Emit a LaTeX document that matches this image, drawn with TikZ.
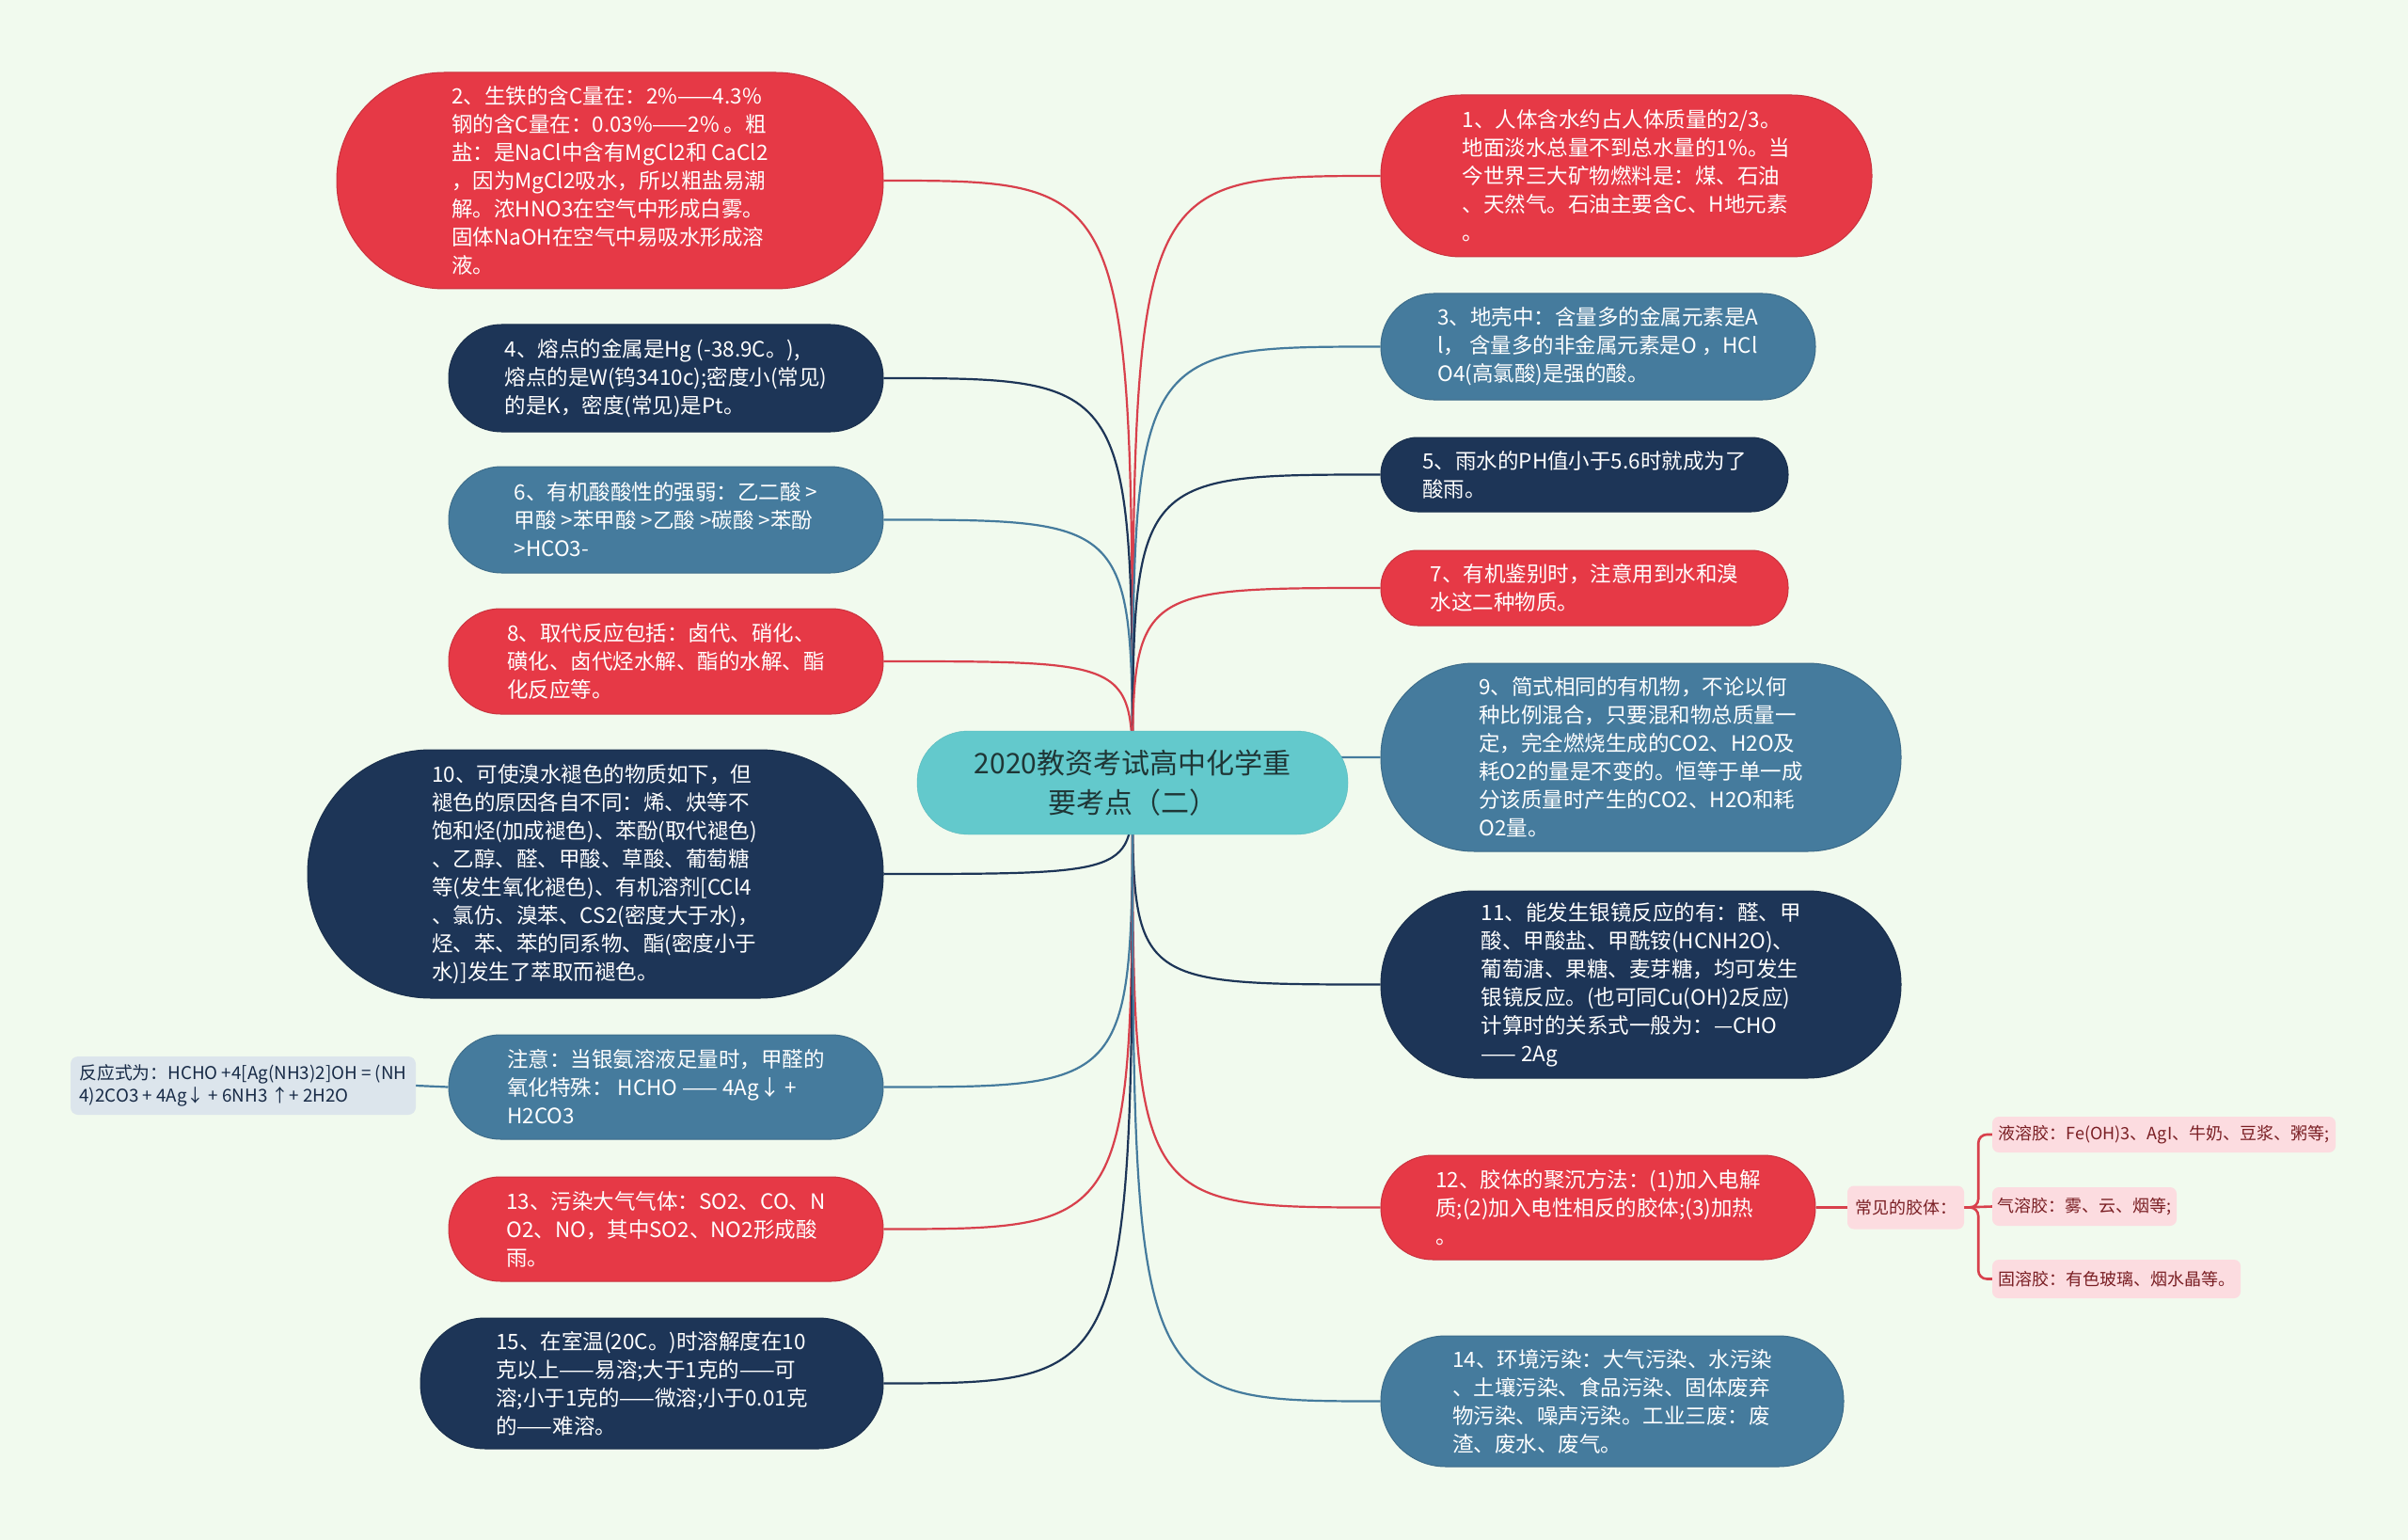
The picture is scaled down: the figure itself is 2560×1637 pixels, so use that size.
\documentclass[tikz,border=0pt]{standalone}
\usepackage{fontspec}
\setmainfont{Noto Sans CJK SC}
\usetikzlibrary{calc}
\definecolor{bgc}{HTML}{F1FAEE}
\definecolor{cred}{HTML}{E63946}
\definecolor{cnavy}{HTML}{1D3557}
\definecolor{csteel}{HTML}{457B9D}
\definecolor{croot}{HTML}{63C9CC}
\definecolor{croottext}{HTML}{1F3636}
\definecolor{cgray}{HTML}{DCE5EC}
\definecolor{cpink}{HTML}{FCDCE0}
\definecolor{csubtext}{HTML}{7A1F24}
\definecolor{clinered}{HTML}{D8404C}
\pgfdeclarelayer{bg}\pgfdeclarelayer{lines}\pgfsetlayers{bg,lines,main}
\tikzset{
  box/.style={rectangle, align=left, text=white, inner sep=0pt,
    font=\fontsize{22.5}{30}\selectfont, line width=1pt},
  redbox/.style={box, fill=cred, draw=cred!88!black},
  navybox/.style={box, fill=cnavy, draw=cnavy!88!black},
  steelbox/.style={box, fill=csteel, draw=csteel!88!black},
  rootbox/.style={rectangle, align=center, text=croottext, fill=croot, draw=croot!92!black,
    font=\fontsize{30}{42}\selectfont, minimum width=458, minimum height=110, rounded corners=54},
  graybox/.style={rectangle, align=left, fill=cgray, text=cnavy!80!black, rounded corners=8,
    font=\fontsize{18.8}{24}\selectfont, inner sep=0pt},
  pinkbox/.style={rectangle, align=left, fill=cpink, text=csubtext, rounded corners=7,
    font=\fontsize{18}{22}\selectfont, inner sep=0pt},
  link/.style={line width=2.2pt},
  sublink/.style={line width=2.6pt, color=clinered, rounded corners=9},
}
\begin{document}
\begin{tikzpicture}[x=1pt,y=-1pt]
\begin{pgfonlayer}{bg}
\fill[bgc] (0,0) rectangle (2560,1637);
\end{pgfonlayer}
\path[use as bounding box] (0,0) rectangle (2560,1637);

% root
\node[rootbox] (root) at (1204,832) {2020教资考试高中化学重\\要考点（二）};

% left side
\node[redbox, minimum width=581, minimum height=230, rounded corners=114] (n2) at (648.5,192)
 {2、生铁的含C量在：2\%——4.3\%\\钢的含C量在：0.03\%——2\% 。粗\\盐：是NaCl中含有MgCl2和 CaCl2\\，因为MgCl2吸水，所以粗盐易潮\\解。浓HNO3在空气中形成白雾。\\固体NaOH在空气中易吸水形成溶\\液。};
\node[navybox, minimum width=462, minimum height=114, rounded corners=56] (n4) at (708,402)
 {4、熔点的金属是Hg (-38.9C。),\\熔点的是W(钨3410c);密度小(常见)\\的是K，密度(常见)是Pt。};
\node[steelbox, minimum width=462, minimum height=113, rounded corners=56] (n6) at (708,552.5)
 {6、有机酸酸性的强弱：乙二酸 >\\甲酸 >苯甲酸 >乙酸 >碳酸 >苯酚\\>HCO3-};
\node[redbox, minimum width=462, minimum height=112, rounded corners=55] (n8) at (708,703)
 {8、取代反应包括：卤代、硝化、\\磺化、卤代烃水解、酯的水解、酯\\化反应等。};
\node[navybox, minimum width=612, minimum height=264, rounded corners=131] (n10) at (633,929)
 {10、可使溴水褪色的物质如下，但\\褪色的原因各自不同：烯、炔等不\\饱和烃(加成褪色)、苯酚(取代褪色)\\、乙醇、醛、甲酸、草酸、葡萄糖\\等(发生氧化褪色)、有机溶剂[CCl4\\、氯仿、溴苯、CS2(密度大于水)，\\烃、苯、苯的同系物、酯(密度小于\\水)]发生了萃取而褪色。};
\node[steelbox, minimum width=462, minimum height=111, rounded corners=55] (note) at (708,1155.5)
 {注意：当银氨溶液足量时，甲醛的\\氧化特殊： HCHO —— 4Ag↓ +\\H2CO3};
\node[graybox, minimum width=367, minimum height=62] (react) at (258.5,1154)
 {反应式为：HCHO +4[Ag(NH3)2]OH = (NH\\4)2CO3 + 4Ag↓ + 6NH3 ↑+ 2H2O};
\node[redbox, minimum width=462, minimum height=111, rounded corners=55] (n13) at (708,1306.5)
 {13、污染大气气体：SO2、CO、N\\O2、NO，其中SO2、NO2形成酸\\雨。};
\node[navybox, minimum width=492, minimum height=139, rounded corners=69] (n15) at (693,1470.5)
 {15、在室温(20C。)时溶解度在10\\克以上——易溶;大于1克的——可\\溶;小于1克的——微溶;小于0.01克\\的——难溶。};

% right side
\node[redbox, minimum width=522, minimum height=172, rounded corners=85] (n1) at (1729,187)
 {1、人体含水约占人体质量的2/3。\\地面淡水总量不到总水量的1\%。当\\今世界三大矿物燃料是：煤、石油\\、天然气。石油主要含C、H地元素\\。};
\node[steelbox, minimum width=462, minimum height=113, rounded corners=56] (n3) at (1699,368.5)
 {3、地壳中：含量多的金属元素是A\\l， 含量多的非金属元素是O ，HCl\\O4(高氯酸)是强的酸。};
\node[navybox, minimum width=433, minimum height=79, rounded corners=39] (n5) at (1684.5,504.5)
 {5、雨水的PH值小于5.6时就成为了\\酸雨。};
\node[redbox, minimum width=433, minimum height=80, rounded corners=39] (n7) at (1684.5,625)
 {7、有机鉴别时，注意用到水和溴\\水这二种物质。};
\node[steelbox, minimum width=553, minimum height=200, rounded corners=99] (n9) at (1744.5,805)
 {9、简式相同的有机物，不论以何\\种比例混合，只要混和物总质量一\\定，完全燃烧生成的CO2、H2O及\\耗O2的量是不变的。恒等于单一成\\分该质量时产生的CO2、H2O和耗\\O2量。};
\node[navybox, minimum width=553, minimum height=199, rounded corners=99] (n11) at (1744.5,1046.5)
 {11、能发生银镜反应的有：醛、甲\\酸、甲酸盐、甲酰铵(HCNH2O)、\\葡萄溏、果糖、麦芽糖，均可发生\\银镜反应。(也可同Cu(OH)2反应)\\计算时的关系式一般为：—CHO\\—— 2Ag};
\node[redbox, minimum width=462, minimum height=111, rounded corners=55] (n12) at (1699,1283.5)
 {12、胶体的聚沉方法：(1)加入电解\\质;(2)加入电性相反的胶体;(3)加热\\。};
\node[steelbox, minimum width=492, minimum height=139, rounded corners=69] (n14) at (1714,1489.5)
 {14、环境污染：大气污染、水污染\\、土壤污染、食品污染、固体废弃\\物污染、噪声污染。工业三废：废\\渣、废水、废气。};

% colloid sub-nodes
\node[pinkbox, minimum width=124, minimum height=46] (col) at (2026,1283.5) {常见的胶体：};
\node[pinkbox, minimum width=365, minimum height=38] (liq) at (2300.5,1206) {液溶胶：Fe(OH)3、AgI、牛奶、豆浆、粥等;};
\node[pinkbox, minimum width=196, minimum height=41] (gas) at (2216,1282.5) {气溶胶：雾、云、烟等;};
\node[pinkbox, minimum width=264, minimum height=41] (sol) at (2250,1359.5) {固溶胶：有色玻璃、烟水晶等。};

\begin{pgfonlayer}{lines}
\foreach \n/\c in {n2/clinered, n4/cnavy, n6/csteel, n8/clinered, n10/cnavy, note/csteel, n13/clinered, n15/cnavy}
  \draw[link, \c] (root.center) .. controls (root.center |- \n.east) .. (\n.east);
\foreach \n/\c in {n1/clinered, n3/csteel, n5/cnavy, n7/clinered, n9/csteel, n11/cnavy, n12/clinered, n14/csteel}
  \draw[link, \c] (root.center) .. controls (root.center |- \n.west) .. (\n.west);
\draw[link, csteel] (note.west) -- (react.east);
\draw[sublink] (n12.east) -- (col.west);
\draw[sublink] (col.east) -- (gas.west);
\draw[sublink] (col.east) -- ++(15,0) |- (liq.west);
\draw[sublink] (col.east) -- ++(15,0) |- (sol.west);
\end{pgfonlayer}
\end{tikzpicture}
\end{document}
